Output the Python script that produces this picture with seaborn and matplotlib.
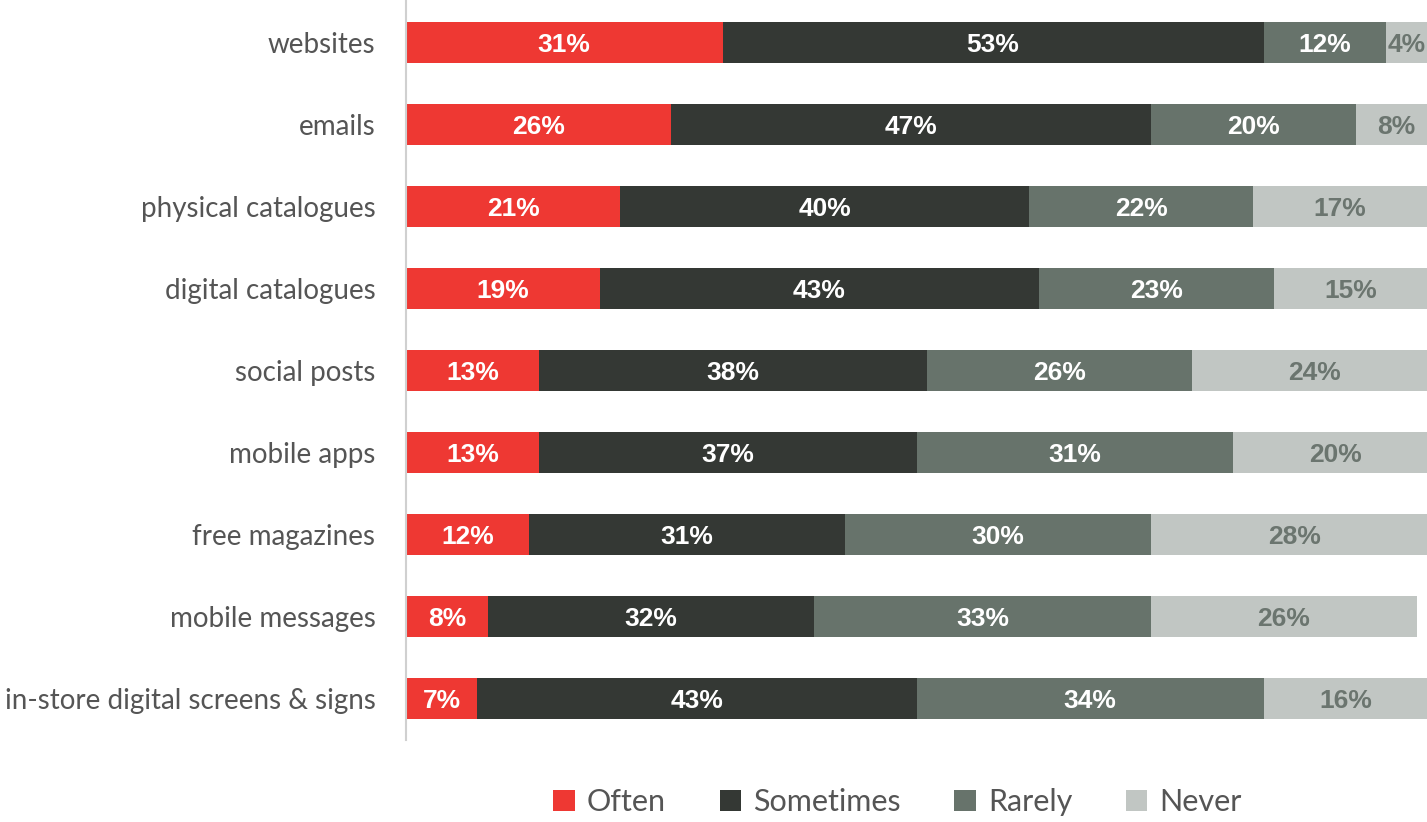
import numpy as np
import pandas as pd
import matplotlib
matplotlib.use("Agg")
import matplotlib.pyplot as plt
from matplotlib.patches import Patch
import seaborn as sns

categories = ["websites", "emails", "physical catalogues", "digital catalogues",
              "social posts", "mobile apps", "free magazines", "mobile messages",
              "in-store digital screens & signs"]
series = ["Often", "Sometimes", "Rarely", "Never"]
often = [31, 26, 21, 19, 13, 13, 12, 8, 7]
sometimes = [53, 47, 40, 43, 38, 37, 31, 32, 43]
rarely = [12, 20, 22, 23, 26, 31, 30, 33, 34]
never = [4, 8, 17, 15, 24, 20, 28, 26, 16]

colors = {"Often": "#EE3833", "Sometimes": "#343834",
          "Rarely": "#67736B", "Never": "#C1C6C3"}
label_colors = {"Often": "white", "Sometimes": "white",
                "Rarely": "white", "Never": "#6B756F"}

values = np.array([often, sometimes, rarely, never], dtype=float)
cum = values.cumsum(axis=0)
starts = cum - values

sns.set_theme(style="white")
plt.rcParams["font.family"] = ["Lato", "DejaVu Sans"]

fig = plt.figure(figsize=(14.27, 8.22), dpi=100)
ax = fig.add_axes([406 / 1427, 1 - 740 / 822, 1 - 406 / 1427, 739 / 822])

# stacked bars: draw running totals from the last series back to the first
for i in range(len(series) - 1, -1, -1):
    df = pd.DataFrame({"category": categories, "total": cum[i]})
    sns.barplot(data=df, x="total", y="category", orient="h",
                color=colors[series[i]], saturation=1, width=0.5,
                linewidth=0, ax=ax)

for i, s in enumerate(series):
    for j in range(len(categories)):
        xc = starts[i, j] + values[i, j] / 2
        ax.text(xc, j, f"{int(values[i, j])}%", ha="center", va="center_baseline",
                color=label_colors[s], fontsize=19, fontweight="bold",
                family=["Liberation Sans", "DejaVu Sans"], clip_on=False)

ax.set_xlim(0, 100)
ax.set_ylim(8.5, -0.5)
ax.set_xlabel("")
ax.set_ylabel("")
ax.set_xticks([])
ax.tick_params(axis="y", length=0, pad=22)
for lab in ax.get_yticklabels():
    lab.set_fontsize(20)
    lab.set_color("#555555")
    lab.set_fontweight("normal")
for side in ["top", "right", "bottom"]:
    ax.spines[side].set_visible(False)
ax.spines["left"].set_color("#D0D0D0")
ax.spines["left"].set_linewidth(1.5)

handles = [Patch(facecolor=colors[s], edgecolor="none", label=s) for s in series]
leg = fig.legend(handles=handles, loc="center", bbox_to_anchor=(0.629, 0.024),
                 ncol=4, frameon=False, fontsize=22, handlelength=0.7,
                 handleheight=0.7, handletextpad=0.4, columnspacing=1.75)
for t in leg.get_texts():
    t.set_color("#555555")

fig.savefig("out.png", dpi=100)
